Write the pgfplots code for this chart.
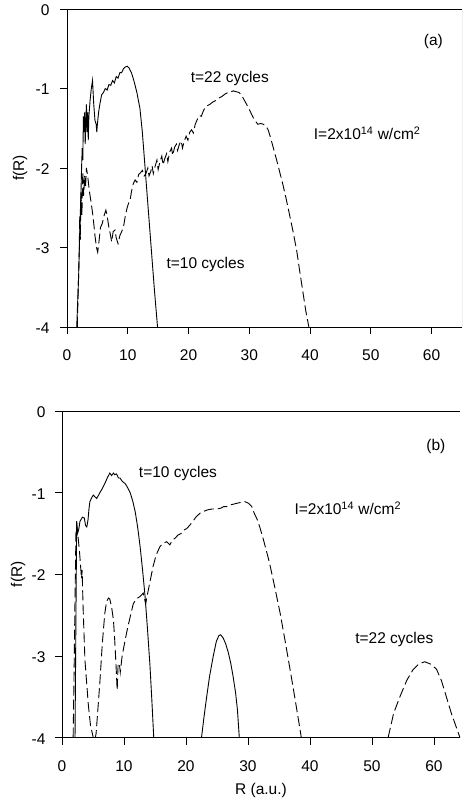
\documentclass[border=0pt]{standalone}
\usepackage{pgfplots}
\pgfplotsset{compat=1.18}
\usepackage{fontspec}
\setmainfont{Liberation Sans}
\pgfplotsset{
  mystyle/.style={
    scale only axis, anchor=south west,
    xmin=0, ymin=-4, ymax=0,
    xtick={0,10,20,30,40,50,60}, ytick={-4,-3,-2,-1,0},
    axis x line*=box, axis y line*=left,
    tick align=outside, major tick length=7pt,
    xtick pos=bottom, ytick pos=left,
    tick style={black, line width=0.8pt},
    axis line style={black, line width=0.9pt},
    /pgf/number format/assume math mode=true,
    tick label style={font=\fontsize{15.5}{18}\selectfont},
    xticklabel style={yshift=-12pt},
    label style={font=\fontsize{15.5}{18}\selectfont},
  },
  solidc/.style={black, line width=0.9pt, no marks},
  dashc/.style={black, line width=0.9pt, no marks, dash pattern=on 10pt off 4pt},
}
\begin{document}
\begin{tikzpicture}[font=\fontsize{15.5}{18}\selectfont]
\path[use as bounding box] (0,0) rectangle (463pt,802pt);
% ---------------- panel (a)
\begin{axis}[mystyle, at={(67pt,475pt)}, width=395pt, height=318pt, xmax=65,
  yticklabel style={xshift=-7pt, yshift=-1pt},
  every axis y label/.style={at={(axis description cs:-0.119,0.5)}, rotate=90, anchor=center},
  ylabel={f(R)}]
\addplot[solidc] coordinates {
(1.6,-4.0) (1.9,-3.4) (2.1,-2.8) (2.3,-2.3) (2.4,-2.0) (2.5,-1.75) (2.6,-1.9) (2.7,-1.35)
(2.8,-1.55) (2.9,-1.3) (3.0,-1.7) (3.1,-1.4) (3.2,-1.2) (3.3,-1.55) (3.4,-1.3) (3.5,-1.65)
(3.6,-1.35) (3.8,-1.15) (4.0,-1.0) (4.2,-0.9) (4.4,-1.2) (4.6,-1.4) (4.8,-1.45) (4.9,-1.55)
(5.0,-1.45) (5.2,-1.3) (5.4,-1.2) (5.7,-1.08) (6.0,-1.05) (6.3,-1.0) (6.6,-1.02) (6.9,-0.95)
(7.2,-0.96) (7.5,-0.9) (7.8,-0.93) (8.1,-0.85) (8.4,-0.87) (8.7,-0.8) (9.0,-0.8) (9.3,-0.75)
(9.6,-0.73) (9.9,-0.72) (10.2,-0.74) (10.6,-0.8) (11.0,-0.9) (11.5,-1.05) (12.0,-1.25)
(12.4,-1.55) (12.8,-1.95) (13.2,-2.35) (13.6,-2.75) (14.0,-3.15) (14.4,-3.55) (14.9,-4.0)
};
\addplot[dashc] coordinates {
(1.7,-4.0) (1.85,-3.5) (2.0,-3.1) (2.1,-2.6) (2.2,-2.9) (2.3,-2.3) (2.45,-2.6) (2.6,-2.05)
(2.75,-2.35) (2.9,-2.1) (3.05,-2.25) (3.2,-2.0) (3.4,-2.1) (3.7,-2.3) (4.0,-2.45) (4.3,-2.62)
(4.6,-2.85) (4.85,-3.0) (5.05,-3.06) (5.3,-2.9) (5.5,-2.75) (5.8,-2.7) (6.1,-2.6) (6.4,-2.53)
(6.6,-2.6) (6.9,-2.75) (7.1,-2.82) (7.35,-2.93) (7.6,-2.8) (7.9,-2.78) (8.1,-2.88) (8.4,-2.95)
(8.7,-2.85) (9.0,-2.8) (9.3,-2.74) (9.6,-2.6) (9.9,-2.5) (10.1,-2.45) (10.4,-2.4) (10.6,-2.3)
(10.9,-2.2) (11.2,-2.15) (11.5,-2.18) (11.8,-2.08) (12.1,-2.06) (12.4,-2.03) (12.7,-2.1)
(13.0,-2.07) (13.3,-2.0) (13.5,-2.1) (13.8,-2.04) (14.0,-1.97) (14.2,-2.07) (14.5,-1.98)
(14.8,-1.9) (15.0,-2.02) (15.3,-1.92) (15.6,-1.85) (15.8,-1.96) (16.1,-1.88) (16.4,-1.82)
(16.6,-1.92) (16.9,-1.8) (17.2,-1.75) (17.4,-1.84) (17.7,-1.74) (18.0,-1.70) (18.2,-1.78)
(18.5,-1.7) (18.8,-1.66) (19.0,-1.75) (19.3,-1.66) (19.6,-1.6) (19.9,-1.65) (20.2,-1.55)
(20.5,-1.52) (20.8,-1.56) (21.1,-1.45) (21.5,-1.38) (21.8,-1.34) (22.1,-1.35) (22.5,-1.27)
(23.0,-1.22) (23.5,-1.2) (24.0,-1.17) (24.5,-1.15) (25.0,-1.12) (25.5,-1.1) (26.0,-1.07)
(26.5,-1.05) (27.0,-1.04) (27.4,-1.03) (27.8,-1.04) (28.3,-1.05) (28.7,-1.08) (29.2,-1.15)
(29.7,-1.22) (30.1,-1.28) (30.6,-1.36) (31.0,-1.41) (31.4,-1.45) (31.9,-1.44) (32.3,-1.45)
(32.7,-1.47) (33.1,-1.52) (33.5,-1.62) (34.0,-1.76) (34.5,-1.9) (35.0,-2.05) (35.5,-2.2)
(36.1,-2.4) (36.6,-2.58) (37.2,-2.8) (37.8,-3.04) (38.3,-3.3) (38.8,-3.55) (39.3,-3.8) (39.8,-4.0)
};
\draw[gray, line width=0.6pt] (rel axis cs:1,0) -- (rel axis cs:1,1);
\node at (axis cs:60.3,-0.41) {(a)};
\node at (axis cs:26.8,-0.87) {t=22 cycles};
\node at (axis cs:49.4,-1.56) {I=2x10\textsuperscript{14} w/cm\textsuperscript{2}};
\node at (axis cs:22.8,-3.22) {t=10 cycles};
\end{axis}
% ---------------- panel (b)
\begin{axis}[mystyle, at={(62pt,64.3pt)}, width=398pt, height=326.7pt, xmax=64.2,
  yticklabel style={xshift=-6pt, yshift=-1pt},
  every axis y label/.style={at={(axis description cs:-0.11,0.5)}, rotate=90, anchor=center},
  every axis x label/.style={at={(axis description cs:0.5,-0.162)}, anchor=center},
  ylabel={f(R)}, xlabel={R (a.u.)}]
\addplot[solidc] coordinates {
(2.1,-4.0) (2.2,-3.0) (2.3,-2.0) (2.37,-1.35) (2.5,-1.5) (2.7,-1.45) (2.9,-1.35) (3.06,-1.33)
(3.3,-1.3) (3.6,-1.31) (3.8,-1.4) (4.0,-1.42) (4.2,-1.33) (4.35,-1.2) (4.5,-1.11) (4.8,-1.06)
(5.05,-1.03) (5.3,-1.05) (5.6,-1.07) (5.9,-1.03) (6.1,-1.0) (6.5,-0.95) (6.9,-0.89) (7.3,-0.82)
(7.7,-0.76) (8.0,-0.79) (8.3,-0.76) (8.5,-0.78) (8.8,-0.77) (9.1,-0.82) (9.35,-0.82) (9.7,-0.86)
(10.2,-0.89) (10.6,-0.94) (11.0,-1.0) (11.4,-1.1) (11.8,-1.23) (12.2,-1.42) (12.6,-1.66)
(13.0,-1.95) (13.4,-2.27) (13.8,-2.68) (14.2,-3.13) (14.5,-3.55) (14.8,-4.0)
};
\addplot[solidc] coordinates {
(22.5,-4.0) (22.9,-3.75) (23.3,-3.52) (23.8,-3.25) (24.4,-3.0) (24.9,-2.82) (25.3,-2.75)
(25.6,-2.74) (26.0,-2.78) (26.4,-2.85) (26.8,-2.95) (27.2,-3.08) (27.6,-3.25) (28.0,-3.45)
(28.3,-3.66) (28.6,-4.0)
};
\addplot[dashc] coordinates {
(1.8,-4.0) (1.95,-3.2) (2.1,-2.3) (2.25,-1.5) (2.4,-1.4) (2.6,-1.55) (2.8,-1.7) (3.0,-1.9)
(3.15,-2.05) (3.25,-1.95) (3.4,-2.4) (3.7,-3.05) (4.0,-3.35) (4.25,-3.6) (4.6,-3.85) (5.05,-4.0)
(5.25,-4.05) (5.5,-3.95) (6.1,-3.33) (6.5,-2.85) (6.9,-2.48) (7.2,-2.33) (7.5,-2.29) (7.7,-2.3)
(8.0,-2.4) (8.3,-2.56) (8.5,-2.8) (8.7,-3.09) (8.9,-3.42) (9.05,-3.1) (9.25,-3.09) (9.4,-3.2)
(9.7,-3.0) (10.2,-2.8) (10.6,-2.65) (11.0,-2.52) (11.5,-2.36) (12.0,-2.3) (12.6,-2.27)
(13.1,-2.23) (13.5,-2.36) (13.9,-2.2) (14.3,-2.05) (14.7,-1.9) (15.2,-1.76) (15.8,-1.66)
(16.3,-1.62) (16.9,-1.6) (17.4,-1.64) (17.8,-1.58) (18.2,-1.56) (18.7,-1.52) (19.2,-1.5)
(19.6,-1.46) (20.1,-1.44) (20.6,-1.4) (21.2,-1.34) (21.7,-1.29) (22.3,-1.25) (22.8,-1.23)
(23.5,-1.21) (24.2,-1.2) (25.0,-1.2) (25.6,-1.19) (26.1,-1.17) (26.6,-1.17) (27.1,-1.15)
(27.7,-1.14) (28.2,-1.13) (28.8,-1.12) (29.5,-1.11) (30.1,-1.13) (30.6,-1.17) (31.0,-1.25)
(31.5,-1.33) (31.9,-1.42) (32.4,-1.55) (33.0,-1.72) (33.5,-1.87) (34.3,-2.15) (35.2,-2.48)
(36.0,-2.82) (36.8,-3.17) (37.6,-3.53) (38.4,-3.9) (38.6,-4.0)
};
\addplot[dashc] coordinates {
(52.6,-4.0) (53.5,-3.7) (54.5,-3.5) (55.6,-3.3) (56.6,-3.17) (57.5,-3.1) (58.5,-3.07)
(59.5,-3.1) (60.4,-3.16) (61.2,-3.3) (62.0,-3.5) (62.8,-3.7) (63.5,-3.85) (64.2,-4.0)
};
\node at (axis cs:60.3,-0.44) {(b)};
\node at (axis cs:18.7,-0.76) {t=10 cycles};
\node at (axis cs:46.1,-1.19) {I=2x10\textsuperscript{14} w/cm\textsuperscript{2}};
\node at (axis cs:53.6,-2.80) {t=22 cycles};
\end{axis}
\end{tikzpicture}
\end{document}
